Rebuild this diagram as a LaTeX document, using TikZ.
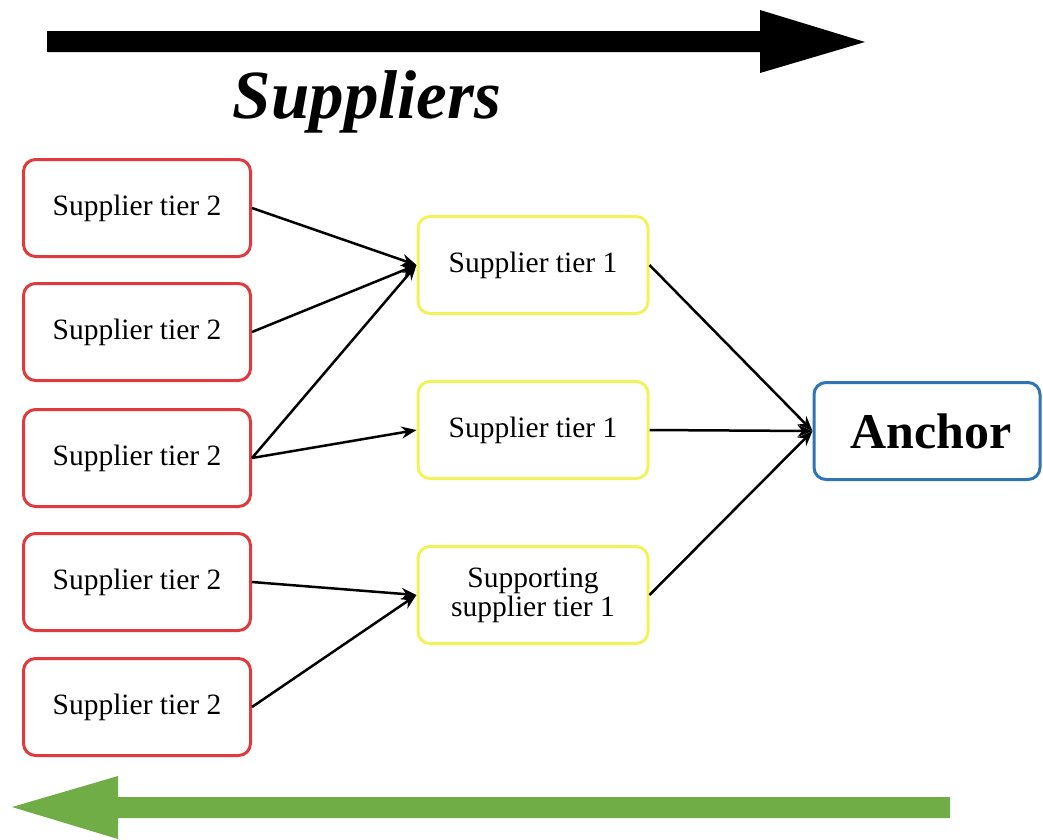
\documentclass[tikz,border=0pt]{standalone}
\usepackage{fontspec}
\setmainfont{Liberation Serif}
\usetikzlibrary{arrows.meta}
\definecolor{tiertwo}{HTML}{E03A3E}
\definecolor{tierone}{HTML}{F2F25A}
\definecolor{anchorblue}{HTML}{2F75B5}
\definecolor{flowgreen}{HTML}{70AD47}
\tikzset{
  box/.style={draw, line width=3pt, rounded corners=12pt, fill=white,
    minimum width=227pt, minimum height=97pt, align=center, inner sep=0pt,
    font=\fontsize{29.5}{33}\selectfont},
  tiertwobox/.style={box, draw=tiertwo},
  tieronebox/.style={box, draw=tierone, minimum width=230pt},
  anchorbox/.style={box, draw=anchorblue, minimum width=226pt,
    font=\fontsize{50}{54}\selectfont\bfseries},
  link/.style={line width=2.5pt, -{Stealth[length=15pt,width=12pt]}}
}
\begin{document}
\begin{tikzpicture}[x=1pt,y=-1pt]
  \useasboundingbox (0,0) rectangle (1043,839);

  % direction arrows
  \fill[black] (47,31) -- (760,31) -- (760,10) -- (865,42) -- (760,73)
    -- (760,52) -- (47,52) -- cycle;
  \node[font=\fontsize{69}{74}\selectfont\bfseries\itshape, anchor=base]
    (title) at (367,118) {Suppliers};
  \fill[flowgreen] (950,797) -- (118,797) -- (118,776) -- (12,807)
    -- (118,839) -- (118,818) -- (950,818) -- cycle;

  % second tier suppliers
  \node[tiertwobox] (s1) at (137,208) {Supplier tier 2};
  \node[tiertwobox] (s2) at (137,332) {Supplier tier 2};
  \node[tiertwobox] (s3) at (137,458) {Supplier tier 2};
  \node[tiertwobox] (s4) at (137,582) {Supplier tier 2};
  \node[tiertwobox] (s5) at (137,707) {Supplier tier 2};

  % first tier suppliers
  \node[tieronebox] (t1) at (533,265) {Supplier tier 1};
  \node[tieronebox] (t2) at (533,430) {Supplier tier 1};
  \node[tieronebox] (t3) at (533,595) {Supporting\\[-4pt]supplier tier 1};

  % anchor firm
  \node[anchorbox] (anc) at (927,431) {\hspace{8pt}Anchor};

  % flows
  \draw[link] (s1.east) -- (t1.west);
  \draw[link] (s2.east) -- (t1.west);
  \draw[link] (s3.east) -- (t1.west);
  \draw[link] (s3.east) -- (t2.west);
  \draw[link] (s4.east) -- (t3.west);
  \draw[link] (s5.east) -- (t3.west);
  \draw[link] (t1.east) -- (anc.west);
  \draw[link] (t2.east) -- (anc.west);
  \draw[link] (t3.east) -- (anc.west);
\end{tikzpicture}
\end{document}
